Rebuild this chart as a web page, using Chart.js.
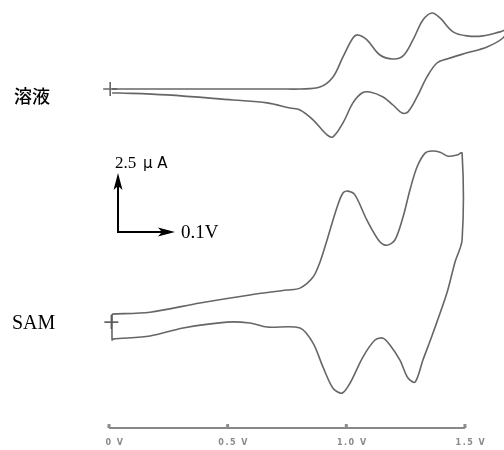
<!DOCTYPE html>
<html>
<head>
<meta charset="utf-8">
<script src="https://cdn.jsdelivr.net/npm/chart.js@4.4.0/dist/chart.umd.min.js"></script>
<style>
  body { margin: 0; background: #fff; }
  canvas { display: block; }
</style>
</head>
<body>
<canvas id="cvChart" width="504" height="450"></canvas>
<script>
// Potential axis ticks
const voltTicks = [0, 0.5, 1.0, 1.5];
const tickLabels = ['0 V', '0.5 V', '1.0 V', '1.5 V'];

// 溶液 (solution) - potential (V) and current (uA) along the sweep
const solutionV = [0.013, 0.383, 0.721, 0.805, 0.889, 0.944, 0.986, 1.028, 1.049, 1.087, 1.142, 1.197, 1.239, 1.281, 1.323, 1.361, 1.395, 1.450, 1.509, 1.576, 1.648, 1.677,
  1.660, 1.593, 1.509, 1.424, 1.382, 1.340, 1.298, 1.260, 1.235, 1.197, 1.155, 1.100, 1.066, 1.028, 0.986, 0.944, 0.919, 0.860, 0.805, 0.763, 0.666, 0.523, 0.244, 0.046, 0.013];
const solutionI = [0, 0, 0, 0, 0.08, 0.51, 1.36, 2.16, 2.29, 2.08, 1.44, 1.27, 1.40, 2.08, 2.92, 3.22, 3.01, 2.42, 2.25, 2.25, 2.42, 2.50,
  2.16, 1.78, 1.53, 1.27, 1.10, 0.51, -0.34, -0.97, -1.02, -0.68, -0.34, -0.13, -0.17, -0.59, -1.44, -2.03, -1.95, -1.31, -0.89, -0.81, -0.59, -0.47, -0.25, -0.17, -0.17];

// SAM - potential (V) and current (uA)
const samV = [0.013, 0.173, 0.383, 0.594, 0.750, 0.805, 0.860, 0.889, 0.919, 0.961, 0.986, 1.007, 1.037, 1.087, 1.142, 1.172, 1.205, 1.239, 1.268, 1.298, 1.332, 1.361, 1.395, 1.429, 1.467, 1.488,
  1.488, 1.458, 1.424, 1.365, 1.323, 1.290, 1.260, 1.226, 1.184, 1.155, 1.121, 1.070, 1.016, 0.982, 0.944, 0.902, 0.860, 0.805, 0.666, 0.594, 0.497, 0.312, 0.173, 0.017, 0.013, 0.013];
const samI = [0, 0.08, 0.47, 0.81, 1.02, 1.10, 1.57, 2.20, 3.14, 4.53, 5.13, 5.21, 5.04, 3.98, 3.05, 2.92, 3.14, 4.11, 5.25, 6.23, 6.82, 6.91, 6.86, 6.69, 6.74, 6.82,
  3.14, 2.20, 0.89, -0.81, -1.95, -2.88, -2.71, -1.95, -1.31, -1.02, -1.10, -1.82, -2.92, -3.35, -3.14, -2.25, -1.23, -0.59, -0.55, -0.38, -0.34, -0.59, -0.93, -1.06, -1.10, 0];

// vertical offsets for stacking the two voltammograms (uA)
const solutionOffset = 15.30;
const samOffset = 5.76;

const toPoints = (vs, is, off) => vs.map((v, i) => ({ x: v, y: is[i] + off }));

const lineColor = 'rgba(85, 85, 85, 0.9)';

const overlay = {
  id: 'overlay',
  afterDraw(chart) {
    const ctx = chart.ctx;
    const xs = chart.scales.x, ys = chart.scales.y;
    ctx.save();

    // potential axis
    const axisY = ys.getPixelForValue(0.93);
    ctx.strokeStyle = '#888';
    ctx.lineWidth = 2;
    ctx.beginPath();
    ctx.moveTo(xs.getPixelForValue(voltTicks[0]), axisY);
    ctx.lineTo(xs.getPixelForValue(voltTicks[voltTicks.length - 1]), axisY);
    ctx.stroke();
    ctx.fillStyle = '#8a8a8a';
    ctx.font = 'bold 8px "DejaVu Sans"';
    ctx.textAlign = 'center';
    ctx.textBaseline = 'middle';
    ctx.letterSpacing = '1.5px';
    voltTicks.forEach((t, i) => {
      const px = xs.getPixelForValue(t);
      ctx.fillRect(px - 1.5, axisY - 4, 3, 4);
      ctx.fillText(tickLabels[i], px + 6, axisY + 15);
    });
    ctx.letterSpacing = '0px';

    // scale bar
    const ox = xs.getPixelForValue(0.038), oy = ys.getPixelForValue(9.24);
    const topY = ys.getPixelForValue(9.24 + 2.5);
    const endX = xs.getPixelForValue(0.038 + 0.24);
    ctx.strokeStyle = '#000';
    ctx.fillStyle = '#000';
    ctx.lineWidth = 2;
    ctx.beginPath();
    ctx.moveTo(ox, topY + 12);
    ctx.lineTo(ox, oy);
    ctx.lineTo(endX - 12, oy);
    ctx.stroke();
    ctx.beginPath();
    ctx.moveTo(ox, topY);
    ctx.lineTo(ox - 4.5, topY + 17);
    ctx.lineTo(ox, topY + 13);
    ctx.lineTo(ox + 4.5, topY + 17);
    ctx.closePath();
    ctx.fill();
    ctx.beginPath();
    ctx.moveTo(endX, oy);
    ctx.lineTo(endX - 17, oy - 4.5);
    ctx.lineTo(endX - 13, oy);
    ctx.lineTo(endX - 17, oy + 4.5);
    ctx.closePath();
    ctx.fill();

    ctx.textAlign = 'left';
    ctx.textBaseline = 'alphabetic';
    ctx.font = '17px "Liberation Serif"';
    ctx.fillText('2.5', ox - 3, topY - 5);
    ctx.font = '15px "DejaVu Sans"';
    ctx.fillText('μ A', ox + 25, topY - 5);
    ctx.font = '19px "Liberation Serif"';
    ctx.textBaseline = 'middle';
    ctx.fillText('0.1V', endX + 6, oy + 1);

    // curve names
    ctx.font = '500 18px "Noto Sans CJK JP"';
    ctx.fillText('溶液', 14, 96);
    ctx.font = '20px "Liberation Serif"';
    ctx.fillText('SAM', 12, 324);
    ctx.restore();
  }
};

const cvCtx = document.getElementById('cvChart').getContext('2d');
const cvChart = new Chart(cvCtx, {
  type: 'line',
  data: {
    datasets: [{
      label: '溶液',
      data: toPoints(solutionV, solutionI, solutionOffset),
      borderColor: lineColor,
      borderWidth: 1.6,
      pointRadius: 0,
      tension: 0.35,
      clip: false
    }, {
      label: 'SAM',
      data: toPoints(samV, samI, samOffset),
      borderColor: lineColor,
      borderWidth: 1.6,
      pointRadius: 0,
      tension: 0.3,
      clip: false
    }, {
      label: 'start',
      data: [{ x: 0.005, y: solutionOffset }, { x: 0.01, y: samOffset - 0.34 }],
      showLine: false,
      pointStyle: 'cross',
      pointRadius: 7,
      borderColor: lineColor,
      borderWidth: 1.6
    }]
  },
  options: {
    responsive: false,
    animation: false,
    devicePixelRatio: 1,
    layout: { padding: 0, autoPadding: false },
    plugins: { legend: { display: false }, tooltip: { enabled: false } },
    scales: {
      x: { type: 'linear', display: false, min: -0.4593, max: 1.6646 },
      y: { display: false, min: 0, max: 19.07 }
    }
  },
  plugins: [overlay]
});
</script>
</body>
</html>
